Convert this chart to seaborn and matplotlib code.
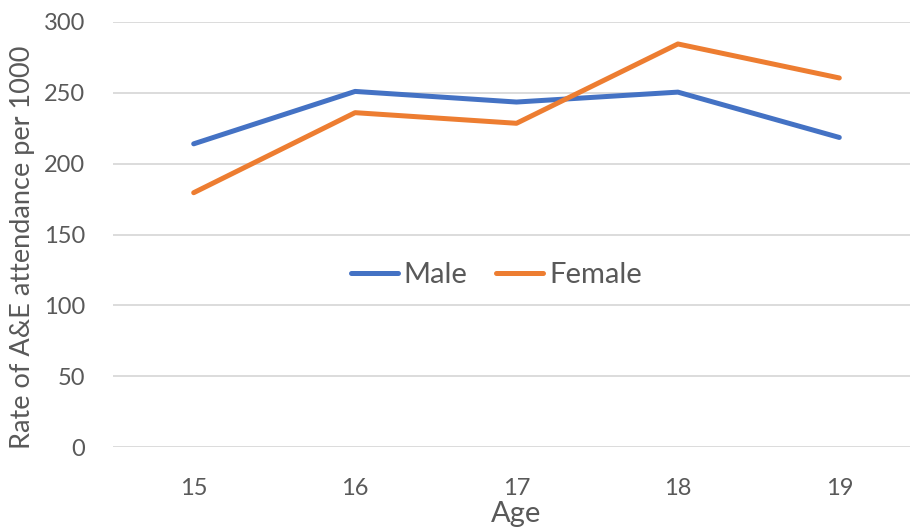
import matplotlib
matplotlib.use("Agg")
import matplotlib.pyplot as plt
import seaborn as sns
import pandas as pd

ages = ["15", "16", "17", "18", "19"]
male = [214, 251, 243.5, 250.5, 218.5]
female = [179.5, 236, 228.5, 284.5, 260.5]
yticks = [0, 50, 100, 150, 200, 250, 300]

df = pd.DataFrame({
    "Age": ages * 2,
    "Rate": male + female,
    "Sex": ["Male"] * 5 + ["Female"] * 5,
})

sns.set_theme(style="white")
plt.rcParams['font.family'] = ['Lato', 'DejaVu Sans']

fig = plt.figure(figsize=(9.1, 5.32), dpi=100)
ax = fig.add_axes([113/910, 1 - 447/532, 807/910, 425/532])

sns.lineplot(data=df, x="Age", y="Rate", hue="Sex", sort=False,
             palette={"Male": "#4472C4", "Female": "#ED7D31"},
             linewidth=3.6, ax=ax, solid_capstyle="round")

ax.set_xlim(-0.5, 4.5)
ax.set_ylim(0, 300)
ax.set_yticks(yticks)
ax.yaxis.grid(True, color="#D9D9D9", linewidth=1.3)
ax.set_axisbelow(True)
for s in ax.spines.values():
    s.set_visible(False)
ax.tick_params(axis="both", length=0, labelsize=17, colors="#595959")
ax.tick_params(axis="y", pad=20)
ax.tick_params(axis="x", pad=22)
ax.set_xlabel("Age", fontsize=21, color="#595959", labelpad=2)
ax.set_ylabel("Rate of A&E attendance per 1000", fontsize=19.5, color="#595959")
ax.yaxis.set_label_coords(-0.097, 0.47)

leg = ax.legend(loc="center", bbox_to_anchor=(0.475, 0.405), ncol=2, frameon=False,
                fontsize=21, handlelength=1.6, columnspacing=1.0, handletextpad=0.2)
for t in leg.get_texts():
    t.set_color("#595959")

fig.savefig("out.png", dpi=100)
